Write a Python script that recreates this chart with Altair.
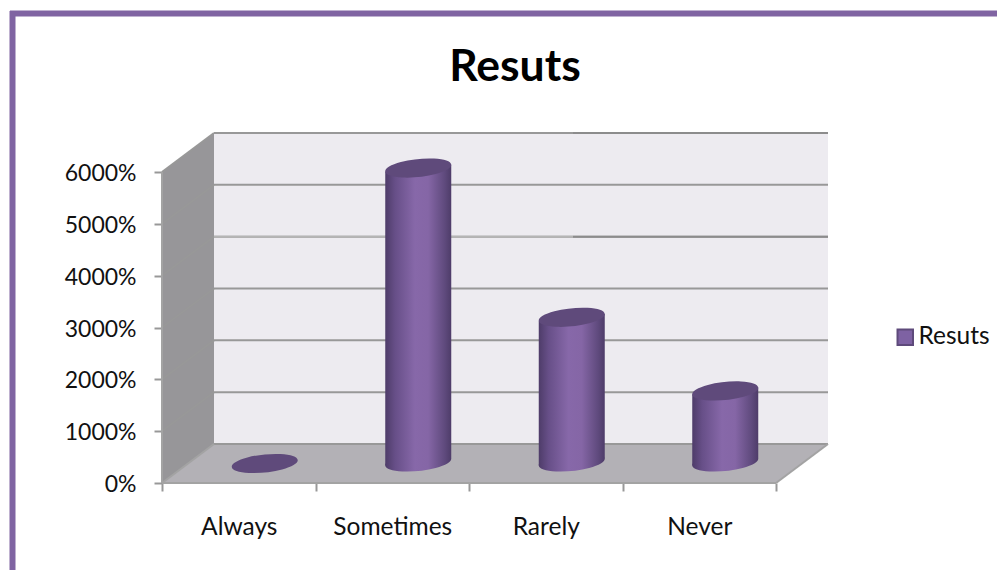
import altair as alt
import pandas as pd

categories = ["Always", "Sometimes", "Rarely", "Never"]
values = [0, 5700, 2820, 1400]
y_ticks = [0, 1000, 2000, 3000, 4000, 5000, 6000]
series_name = "Resuts"

FONT = "Lato"
TEXT = "#111111"
GRID = "#989898"
EDGE = "#a3a3a3"

DEPTH_X = 52 / 153.5      # depth of the 3D box, in category units
DEPTH_Y = 39 / (311 / 6000)  # depth of the 3D box, in value units
HALF_W = 33 / 153.5
TILT = 3.4 / (311 / 6000)  # ellipse tilt, in value units
LIFT = 1.5 / (311 / 6000)  # cylinder foot sits slightly behind the mid-depth line
SEAM = 411 / 153.5         # the reference's gridlines change tone here
N = len(categories)
TOP = y_ticks[-1]

xs = alt.Scale(domain=[0, N], nice=False, zero=False)
ys = alt.Scale(domain=[0, TOP], nice=False, zero=False)
X = lambda f="x": alt.X(f"{f}:Q", scale=xs, axis=None)
Y = lambda f="y": alt.Y(f"{f}:Q", scale=ys,
                        axis=alt.Axis(values=y_ticks, labelExpr="datum.value + '%'", title=None,
                                      domain=False, grid=False, tickColor=GRID, tickWidth=2,
                                      tickSize=8, labelPadding=18, labelFont=FONT, labelOffset=1.5,
                                      labelFontSize=23, labelColor=TEXT))

# walls and floor
side = pd.DataFrame({"x": [0, DEPTH_X], "y": [TOP, TOP + DEPTH_Y], "y2": [0, DEPTH_Y]})
floor = pd.DataFrame({"x": [0, DEPTH_X, N, N + DEPTH_X],
                      "y": [0, DEPTH_Y, DEPTH_Y, DEPTH_Y],
                      "y2": [0, 0, 0, DEPTH_Y]})
back = pd.DataFrame({"x": [DEPTH_X], "x2": [N + DEPTH_X], "y": [DEPTH_Y], "y2": [TOP + DEPTH_Y]})

side_layer = alt.Chart(side).mark_area(color="#979699", opacity=1).encode(
    x=X(), y=Y(), y2="y2:Q")
back_layer = alt.Chart(back).mark_rect(color="#EDEBF0").encode(
    x=X(), x2="x2:Q", y=Y(), y2="y2:Q")
floor_layer = alt.Chart(floor).mark_area(color="#B3B1B6", opacity=1).encode(
    x=X(), y=Y(), y2="y2:Q")

# gridlines across the back wall and the side wall
grid_rows = []
for t in y_ticks:
    grid_rows.append({"x": DEPTH_X, "x2": N + DEPTH_X, "y": t + DEPTH_Y, "y2": t + DEPTH_Y})
    if t > 0:
        grid_rows.append({"x": 0, "x2": DEPTH_X, "y": t, "y2": t + DEPTH_Y})
grid_layer = alt.Chart(pd.DataFrame(grid_rows)).mark_rule(color=GRID, strokeWidth=2).encode(
    x=X(), x2="x2:Q", y=Y(), y2="y2:Q")

# tone changes of two gridlines
pale = pd.DataFrame({"x": [DEPTH_X], "x2": [SEAM], "y": [4000 + DEPTH_Y], "y2": [4000 + DEPTH_Y]})
dark = pd.DataFrame({"x": [SEAM, SEAM], "x2": [N + DEPTH_X, N + DEPTH_X],
                     "y": [6000 + DEPTH_Y, 4000 + DEPTH_Y], "y2": [6000 + DEPTH_Y, 4000 + DEPTH_Y]})
pale_layer = alt.Chart(pale).mark_rule(color="#B5B5B5", strokeWidth=2).encode(
    x=X(), x2="x2:Q", y=Y(), y2="y2:Q")
dark_layer = alt.Chart(dark).mark_rule(color="#8C8C8C", strokeWidth=2).encode(
    x=X(), x2="x2:Q", y=Y(), y2="y2:Q")

edges = pd.DataFrame([
    {"x": 0, "x2": N, "y": 0, "y2": 0},
    {"x": N, "x2": N + DEPTH_X, "y": 0, "y2": DEPTH_Y},
    {"x": 0, "x2": DEPTH_X, "y": 0, "y2": DEPTH_Y},
    {"x": 0, "x2": 0, "y": 0, "y2": TOP},
])
edge_layer = alt.Chart(edges).mark_rule(color=EDGE, strokeWidth=2).encode(
    x=X(), x2="x2:Q", y=Y(), y2="y2:Q")

# cylinders
bars = pd.DataFrame({"cat": categories, "value": values})
bars["cx"] = [i + 0.5 + DEPTH_X / 2 for i in range(N)]
bars["base"] = DEPTH_Y / 2 + LIFT
bars["top"] = bars["value"] + DEPTH_Y / 2
bars["series"] = series_name

# a tilted body: left side lower, right side higher, like the ellipse ends
body_rows = []
for _, r in bars.iterrows():
    if r["value"] > 0:
        body_rows.append({"cat": r["cat"], "x": r["cx"] - HALF_W,
                          "y": r["top"] - TILT, "y2": r["base"] - TILT})
        body_rows.append({"cat": r["cat"], "x": r["cx"] + HALF_W,
                          "y": r["top"] + TILT, "y2": r["base"] + TILT})
body = pd.DataFrame(body_rows)

grad = alt.Gradient(
    gradient="linear", x1=0, x2=1, y1=0, y2=0,
    stops=[
        alt.GradientStop(offset=0, color="#4E3C69"),
        alt.GradientStop(offset=0.15, color="#674F88"),
        alt.GradientStop(offset=0.45, color="#8768A9"),
        alt.GradientStop(offset=0.65, color="#8566A6"),
        alt.GradientStop(offset=0.9, color="#5F4A7D"),
        alt.GradientStop(offset=1, color="#4E3C69"),
    ],
)
ELLIPSE = "M-0.9945,0.1045 A1,0.27,-6,1,1,0.9945,-0.1045 A1,0.27,-6,1,1,-0.9945,0.1045 Z"
ELL_SIZE = 4400

bottom_layer = alt.Chart(bars[bars["value"] > 0]).mark_point(
    shape=ELLIPSE, size=ELL_SIZE, filled=True, fill=grad, opacity=1).encode(
    x=X("cx"), y=Y("base"))
body_layer = alt.Chart(body).mark_area(fill=grad, opacity=1).encode(
    x=X(), y=Y(), y2="y2:Q", detail="cat:N")
top_layer = alt.Chart(bars).mark_point(
    shape=ELLIPSE, size=ELL_SIZE, filled=True, fill="#5F4A7B", opacity=1).encode(
    x=X("cx"), y=Y("top"))

# legend carrier: invisible mark, real legend
legend_layer = alt.Chart(bars.head(1)).mark_point(size=0, filled=True, opacity=1).encode(
    x=X("cx"), y=Y("base"),
    color=alt.Color("series:N", scale=alt.Scale(range=["#7E62A3"]),
                    legend=alt.Legend(title=None, orient="none", legendX=731, legendY=153,
                                      symbolType="square", symbolSize=240,
                                      symbolStrokeColor="#5E4A7B", symbolStrokeWidth=2,
                                      labelFont=FONT, labelFontSize=24.5, labelColor=TEXT,
                                      labelOffset=1)),
)

# real category axis, ticks on band edges
cat_layer = alt.Chart(pd.DataFrame({"cat": categories})).mark_point(opacity=0).encode(
    x=alt.X("cat:N", sort=categories,
            scale=alt.Scale(type="band", paddingInner=0, paddingOuter=0),
            axis=alt.Axis(title=None, domain=False, grid=False, tickBand="extent", tickColor=GRID,
                          tickWidth=2, tickSize=8, labelAngle=0, labelPadding=24, labelFont=FONT,
                          labelFontSize=24.5, labelColor=TEXT)),
)

# page frame
frame_top = alt.Chart(pd.DataFrame({"a": [0]})).mark_rule(color="#8064A2", strokeWidth=6).encode(
    x=alt.value(-152), x2=alt.value(835), y=alt.value(-158.5))
frame_left = alt.Chart(pd.DataFrame({"a": [0]})).mark_rule(color="#8064A2", strokeWidth=6).encode(
    x=alt.value(-149.5), y=alt.value(-161), y2=alt.value(398))

chart = alt.layer(
    side_layer, back_layer, floor_layer, grid_layer, pale_layer, dark_layer, edge_layer,
    bottom_layer, body_layer, top_layer, legend_layer, cat_layer,
    frame_top, frame_left,
).resolve_scale(x="independent").properties(
    width=614, height=311,
    padding={"left": 154, "top": 164, "right": 221, "bottom": 87},
    autosize=alt.AutoSizeParams(type="none"),
    title=alt.TitleParams(series_name, font=FONT, fontSize=44.5, fontWeight="bold", color="#000000",
                          anchor="middle", dx=46, offset=-82),
).configure_view(stroke=None)

chart.save("out.html", embed_options={"renderer": "svg", "actions": False})
